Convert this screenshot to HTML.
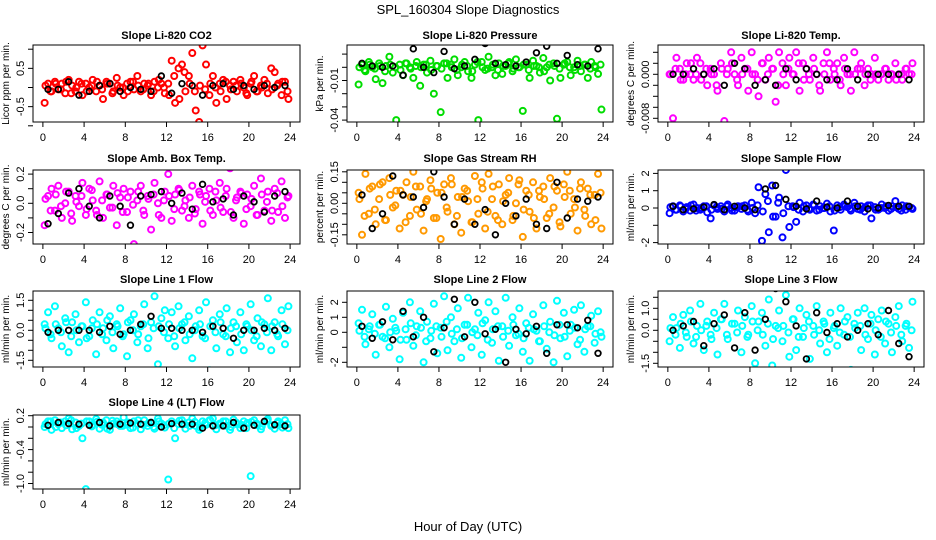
<!DOCTYPE html>
<html><head><meta charset="utf-8"><style>
body{margin:0;background:#fff;}
svg{display:block;font-family:"Liberation Sans",sans-serif;}
</style></head><body>
<svg id="chart" width="936" height="540" viewBox="0 0 936 540">
<text x="468" y="14" text-anchor="middle" font-size="13">SPL_160304  Slope Diagnostics</text>
<text x="468" y="531" text-anchor="middle" font-size="13">Hour of Day (UTC)</text>
</svg>
<script>
const co2Color=[-0.4,0.1,-0.1,0.15,-0.05,0.1,-0.15,0.2,0.05,-0.1,0.15,-0.2,0.1,0,0.2,-0.1,0.05,-0.3,0.15,0.1,-0.1,0.25,0,-0.2,0.1,0.15,-0.05,0.3,-0.1,0.1,0.05,-0.2,0.15,0,0.1,-0.15,0.1,0.7,-0.4,0.5,0.6,-0.1,0.3,0.9,-0.6,-0.9,1.1,0.6,-0.2,0.3,-0.4,0.1,0.2,-0.3,0.05,0.15,-0.1,0.2,0,-0.2,0.1,0.3,-0.1,0.05,0.2,-0.15,0.5,0.4,0.1,-0.2,0.15,-0.3];
const co2Core=[0.05,-0.1,0.1,-0.05,0.15,-0.15,0,0.1,-0.1,0.05,0.15,-0.05,0.1,-0.15,0.05,0,-0.1,0.15,0.05,-0.05,0.1,-0.1,0.2,0,-0.2,0.3,-0.3,0.4,0.1,-0.1,0.05,-0.05,0.1,0,-0.1,0.15,-0.05,0.05,0.1,-0.15,0.15,-0.1,0,0.1,-0.05,0.05,0.15,-0.1];
const co2Black=[-0.05,-0.05,0.15,-0.2,-0.1,0.05,0.1,-0.1,0.0,-0.05,-0.1,0.3,-0.15,0.1,0.05,-0.2,0.05,0.1,-0.05,0.05,-0.05,0.05,0.0,0.05];
const presColor=[-0.013,0.002,-0.003,0.004,0,-0.009,0.003,-0.012,0.001,0.008,-0.004,-0.04,0.002,-0.006,0.003,0,-0.008,0.004,-0.014,0.002,-0.004,0.005,-0.02,0.001,-0.034,0.003,-0.008,0.002,0.006,-0.006,0,0.004,-0.003,-0.008,0.002,-0.04,0.004,-0.002,0.008,0,-0.006,0.003,-0.005,0.001,0.004,-0.003,0.006,0,-0.033,0.002,-0.008,0.005,0.001,-0.004,0.007,0,-0.01,0.003,-0.039,-0.008,0.002,0.004,-0.006,0,0.005,-0.003,0.002,-0.008,0.004,0.001,-0.005,-0.032];
const presCore=[0,-0.002,0.002,-0.001,0.001,-0.003,0.002,0,-0.002,0.003,-0.001,0.001,0,0.002,-0.002,0.001,-0.001,0.003,0,-0.002,0.002,0.001,-0.003,0.004,0,-0.001,0.002,-0.002,0.001,0.003,-0.001,0,0.002,-0.002,0.001,0,-0.003,0.002,0.001,-0.001,0.003,0,-0.002,0.001,0.002,-0.001,0,0.002];
const presBlack=[0.003,0.001,0,0.001,-0.006,0.014,0,-0.004,0.012,-0.001,0.001,0.006,0.018,0.003,0.002,0.001,0.004,0.011,0.016,0.003,0.009,0.002,0.001,0.014];
const tempColor=[0,-0.008,0.003,0.001,-0.001,0.002,0,-0.001,0.003,0.002,0,-0.002,0.001,0,-0.003,0.002,-0.0085,0.001,0.004,0,-0.002,0.003,0.001,-0.003,0.004,0,-0.004,0.002,-0.001,0.003,0.001,-0.005,0.004,0.002,-0.002,0.003,0,0.004,-0.003,0.002,0.001,-0.001,0.003,0,-0.003,0.002,0.004,-0.001,0.001,0.002,-0.002,0.003,0,-0.003,0.004,0.001,0.002,-0.002,0.001,0,0.003,-0.001,0,0.001,-0.001,0,0.002,0,-0.001,0.001,0,0.002];
const tempCore=[0,0.001,-0.001,0,0.002,0,-0.001,0.001,0,-0.002,0.001,0,0.002,-0.001,0,0.001,0,-0.001,0.002,0,0.001,-0.002,0,0.001,0,0.002,-0.001,0,0.001,-0.002,0,0.002,0,-0.001,0.001,0,0,0.001,0,-0.001,0,0,0.001,0,-0.001,0,0.001,0];
const tempBlack=[0,0,0.001,0,0.001,-0.002,0.002,0.001,-0.002,-0.001,-0.002,0.001,-0.001,0.001,0,-0.001,-0.001,0.001,-0.001,0,0,0,0,-0.001];
const boxColor=[-0.15,0.05,0.1,-0.05,0.12,-0.1,0,0.08,-0.12,0.05,-0.02,0.14,-0.08,0.1,0.02,-0.05,0.15,-0.1,0.06,-0.03,0.12,-0.15,0.04,0.1,-0.06,0.08,-0.28,0.02,0.12,-0.08,0.05,-0.18,0.14,0,-0.1,0.08,0.2,-0.12,0.06,0.1,-0.05,0.02,-0.1,0.12,-0.04,0.08,-0.14,0.05,0.1,-0.08,0.02,0.14,-0.06,0.1,0.24,-0.1,0.04,0.08,-0.14,0.06,-0.02,0.12,-0.08,0.17,-0.05,0.08,-0.12,0.1,-0.06,0.15,-0.1,0.05];
const boxCore=[0.03,-0.05,0.06,-0.02,0.08,-0.07,0.01,0.05,-0.04,0.09,-0.08,0.02,0.06,-0.03,0.07,-0.06,0.04,-0.01,0.08,-0.05,0.03,0.06,-0.08,0.02,0.05,-0.04,0.09,-0.02,0.04,-0.07,0.06,0.01,-0.05,0.08,-0.03,0.05,-0.06,0.02,0.07,-0.04,0.03,-0.08,0.06,0.01,-0.05,0.07,-0.02,0.04];
const boxBlack=[-0.14,-0.07,0.07,0.1,-0.02,-0.1,0.05,-0.02,-0.15,0.05,0.06,0.08,0.0,0.07,-0.04,0.13,0.01,0.03,-0.08,0.05,0.01,-0.06,0.05,0.08];
const rhColor=[0.05,-0.15,0.14,-0.05,0.08,-0.1,0.02,0.1,-0.08,0.12,-0.02,0.06,-0.12,0.04,0.1,-0.06,0.15,-0.03,0.08,-0.13,0.02,0.11,-0.07,0.05,-0.17,0.09,-0.04,0.12,-0.1,0.03,-0.14,0.07,0.01,-0.09,0.13,-0.05,0.1,-0.12,0.14,0.02,-0.06,0.09,-0.1,0.04,0.12,-0.08,0.0,0.11,-0.16,0.06,-0.04,0.1,-0.12,0.03,0.08,-0.07,0.12,-0.02,0.06,-0.11,0.09,0.15,-0.05,0.02,-0.13,0.1,-0.03,0.07,-0.1,0.04,0.14,-0.12];
const rhCore=[0.02,-0.06,0.07,-0.03,0.09,-0.08,0.04,-0.01,0.06,-0.09,0.03,0.08,-0.05,0.01,0.07,-0.07,0.05,-0.02,0.09,-0.06,0.03,0.06,-0.09,0.02,0.07,-0.04,0.08,-0.08,0.01,0.05,-0.06,0.09,-0.03,0.04,-0.07,0.06,0.02,-0.05,0.08,-0.09,0.03,0.06,-0.02,0.07,-0.06,0.04,-0.08,0.05];
const rhBlack=[0.04,-0.12,-0.05,0.13,0.04,0.03,-0.02,0.15,0.03,-0.1,0.02,-0.1,-0.03,-0.15,0.0,-0.06,0.02,-0.1,-0.12,0.1,-0.07,0.02,0.01,0.03];
const sampColor=[-0.3,0.1,-0.1,0.15,-0.2,0.05,-0.15,0.2,0,-0.1,0.1,-0.25,-0.6,0.15,-0.05,0.1,-0.2,0.2,0,-0.15,0.1,-0.05,0.15,-0.2,0.3,-0.3,1.2,-1.9,0.8,-1.4,1.3,-0.5,0.6,-1.7,2.2,-1.1,0.1,-0.8,0.3,-0.2,0.15,-0.1,0.2,-0.15,0.1,0,0.25,-0.2,-1.3,0.15,-0.1,0.2,0.05,-0.15,0.3,-0.05,0.1,-0.2,0.15,-0.6,0.05,-0.1,0.2,0,-0.15,0.1,0.4,-0.05,0.15,-0.1,0.05,-0.05];
const sampCore=[0.05,-0.1,0.1,-0.05,0.15,-0.15,0,0.1,-0.1,0.05,-0.05,0.1,-0.15,0.05,0.1,-0.1,0,0.15,-0.2,0.4,-0.5,0.3,-0.3,0.1,0.05,-0.1,0.1,-0.05,0.15,-0.1,0,0.1,-0.15,0.05,0.1,-0.05,0.1,-0.1,0.05,0.15,-0.1,0,0.1,-0.05,0.05,-0.15,0.1,0];
const sampBlack=[0.1,-0.1,-0.05,0.05,0.2,-0.1,0.1,0.0,-0.1,1.1,1.3,0.5,0.1,-0.05,0.4,0.05,0.0,0.4,0.1,-0.05,0.0,0.15,0.1,0.1];
const l1Color=[0.3,0.9,-0.4,1.2,0.1,-0.8,0.6,-1.1,0.4,0.8,-0.6,0.2,1.4,-0.3,0.5,-1.2,0.9,0.1,-0.5,0.7,-0.9,0.3,1.1,-0.2,-1.3,0.5,0.8,-0.6,0.2,1.3,-0.9,0.4,1.7,-1.7,0.6,1.0,-0.4,0.9,-0.8,1.2,0.3,-0.5,0.7,-1.4,0.2,1.0,-0.3,1.4,-2.0,0.5,-0.9,0.8,-0.2,1.1,-1.1,0.4,-0.6,0.9,-1.0,0.2,1.3,-0.5,0.6,-0.8,0.3,1.6,-1.0,0.4,-0.3,1.0,-0.7,1.2];
const l1Core=[0.1,-0.2,0.3,-0.1,0.4,-0.3,0,0.2,-0.4,0.1,0.3,-0.2,0.5,-0.1,0.2,-0.3,0.4,0,-0.2,0.3,-0.4,0.1,0.2,-0.1,0.3,-0.3,0.1,0.4,-0.2,0,0.3,-0.4,0.2,-0.1,0.4,-0.3,0.1,0.2,-0.2,0.3,0,-0.3,0.4,-0.1,0.2,-0.2,0.3,0];
const l1Black=[-0.1,0,0,0,0,-0.1,0.2,-0.2,0,0.3,0.7,0.1,0.1,0,0,-0.1,0.2,0.1,-0.4,0,0,0.1,0,0.1];
const l2Color=[0.6,1.5,-0.8,0.2,1.2,-1.5,0.5,-0.3,1.7,-1.0,0.9,0.1,-1.8,1.3,-0.5,2.0,-0.9,0.4,1.4,-2.0,0.7,-0.4,1.9,-1.4,0.3,2.4,-1.2,1.0,-0.6,1.6,-1.7,0.5,2.3,-1.0,0.2,1.3,-1.5,0.8,2.0,-0.7,1.4,-1.9,0.4,2.3,-0.9,1.0,-0.2,1.6,-1.3,0.6,-1.9,1.2,0.1,-0.6,1.8,-1.1,0.7,-2.0,2.1,-0.4,1.3,-1.6,0.5,1.5,-0.8,1.8,-1.3,0.4,1.1,-0.7,1.4,-0.3];
const l2Core=[0.1,-0.3,0.4,-0.1,0.5,-0.4,0,0.3,-0.5,0.2,0.6,-0.2,0.3,-0.6,0.1,0.4,-0.3,0.7,-0.1,0.2,-0.4,0.5,0,-0.2,0.6,-0.5,0.2,0.4,-0.3,0.1,0.5,-0.1,-0.4,0.3,0.2,-0.6,0.4,0,-0.2,0.5,-0.3,0.1,0.3,-0.5,0.2,0.4,-0.1,0];
const l2Black=[0.4,-0.4,0.7,-0.5,1.4,-0.3,1.0,-1.3,0.3,2.2,-0.3,2.0,-0.1,0.2,-2.0,0.2,-0.1,0.4,-1.4,0.5,0.5,0.3,0.8,-1.4];
const l3Color=[-0.5,0.6,0.1,-0.8,0.7,-0.3,0.9,-0.6,0.2,1.2,-0.9,0.4,-0.2,0.8,-1.1,0.5,1.2,-0.4,-1.9,0.3,0.9,-1.0,0.6,-0.2,1.1,-1.5,0.4,0.8,-0.7,1.4,-1.6,0.2,0.9,-0.5,1.6,-1.2,0.5,-0.9,1.0,-0.3,0.7,-1.3,0.2,1.1,-0.6,0.4,-1.0,0.8,0.1,-0.7,1.0,-0.2,0.6,-1.8,0.3,0.8,-0.9,1.0,-0.4,0.7,-1.1,0.5,0.9,-0.6,0.3,-1.0,0.6,1.1,-0.5,0.2,-0.8,1.3];
const l3Core=[0.1,-0.2,0.3,-0.1,0.4,-0.3,0,0.2,-0.4,0.1,0.5,-0.2,0.3,-0.1,0.2,-0.3,0.4,0,-0.2,0.3,-0.4,0.1,0.2,-0.1,0.5,-0.3,0.1,0.4,-0.2,0,0.3,-0.4,0.2,-0.1,0.4,-0.3,0.1,0.2,-0.2,0.3,0,-0.3,0.4,-0.1,0.2,-0.2,0.3,0];
const l3Black=[0,0.2,0.4,-0.7,0.3,0.7,-0.8,0.8,-0.9,0.5,1.9,1.3,0.2,-1.3,0.8,-0.1,0.3,-0.3,0,0.3,-0.2,0.9,-0.6,-1.2];
const l4Color=[0,0.1,-0.05,0.12,0.05,-0.02,0.1,0.15,-0.04,0.08,0.02,-0.2,-1.1,0.1,0.04,0.14,-0.03,0.08,0.12,-0.05,0.06,0.1,0.02,0.17,0.04,-0.02,0.1,0.05,-0.04,0.12,0.02,0.08,-0.03,0.15,0.06,-0.01,-0.93,0.1,-0.2,0.05,0.12,-0.03,0.08,0.15,0.02,-0.05,0.1,0.04,0.12,0.15,-0.04,0.06,0.1,0.02,-0.05,0.13,0.05,-0.02,0.1,0.07,-0.87,0.12,0.03,-0.04,0.09,0.14,0.02,-0.03,0.1,0.05,0.12,-0.02];
const l4Core=[0.05,0.1,0,0.08,0.03,0.12,-0.02,0.06,0.1,0.01,0.09,0.04,-0.03,0.11,0.05,0.02,0.08,-0.01,0.12,0.04,0.07,0,0.1,0.03,0.06,-0.02,0.11,0.05,0.02,0.09,-0.01,0.07,0.12,0.03,0.05,0.1,0,0.08,0.04,-0.02,0.09,0.06,0.01,0.11,0.03,0.07,-0.01,0.05];
const l4Black=[0.03,0.08,0.06,0.05,0.03,0.08,0.02,0.05,0.07,0.05,0.08,0.0,0.06,0.05,0.05,-0.02,0.02,0.02,0.08,-0.02,0.03,0.1,0.04,0.02];
const xTicks=[0,4,8,12,16,20,24];

const NS="http://www.w3.org/2000/svg";
const svg=document.getElementById('chart');
function mk(tag,attrs,parent){const e=document.createElementNS(NS,tag);for(const k in attrs)e.setAttribute(k,attrs[k]);(parent||svg).appendChild(e);return e;}
const cols=[[33,300],[347,613],[658,924]];
const rows=[[45,122],[170,244],[291,367],[415,489]];
const titleY=[39,162,283,406];
const panels=[
 {t:"Slope Li-820 CO2",lab:"Licor ppm per min.",c:0,r:0,y0:87.5,k:38.3,col:"#ff0000",d:co2Color,e:co2Core,b:co2Black,ticks:[-1,-0.5,0,0.5,1],labs:{"-0.5":"-0.5","0.5":"0.5"}},
 {t:"Slope Li-820 Pressure",lab:"kPa per min.",c:1,r:0,y0:67.3,k:1320,col:"#00dd00",d:presColor,e:presCore,b:presBlack,ticks:[0.01,0,-0.01,-0.02,-0.03,-0.04],labs:{"-0.01":"-0.01","-0.04":"-0.04"}},
 {t:"Slope Li-820 Temp.",lab:"degrees C per min.",c:2,r:0,y0:74.3,k:5500,col:"#ff00ff",d:tempColor,e:tempCore,b:tempBlack,ticks:[0.004,0.002,0,-0.002,-0.004,-0.006,-0.008],labs:{"0":"0.000","-0.008":"-0.008"}},
 {t:"Slope Amb. Box Temp.",lab:"degrees C per min.",c:0,r:1,y0:203.3,k:146,col:"#ff00ff",d:boxColor,e:boxCore,b:boxBlack,ticks:[0.2,0.1,0,-0.1,-0.2],labs:{"0.2":"0.2","0":"0.0","-0.2":"-0.2"}},
 {t:"Slope Gas Stream RH",lab:"percent per min.",c:1,r:1,y0:203.3,k:210,col:"#ff9900",d:rhColor,e:rhCore,b:rhBlack,ticks:[0.15,0.1,0.05,0,-0.05,-0.1,-0.15],labs:{"0.15":"0.15","0":"0.00","-0.15":"-0.15"}},
 {t:"Slope Sample Flow",lab:"ml/min per min.",c:2,r:1,y0:208,k:17.3,col:"#0000ff",d:sampColor,e:sampCore,b:sampBlack,ticks:[2,1,0,-1,-2],labs:{"2":"2","1":"1","0":"0","-2":"-2"}},
 {t:"Slope Line 1 Flow",lab:"ml/min per min.",c:0,r:2,y0:330.3,k:20,col:"#00ffff",d:l1Color,e:l1Core,b:l1Black,ticks:[1.5,1,0.5,0,-0.5,-1,-1.5],labs:{"1.5":"1.5","0":"0.0","-1.5":"-1.5"}},
 {t:"Slope Line 2 Flow",lab:"ml/min per min.",c:1,r:2,y0:332.3,k:15,col:"#00ffff",d:l2Color,e:l2Core,b:l2Black,ticks:[2,1,0,-1,-2],labs:{"2":"2","1":"1","0":"0","-2":"-2"}},
 {t:"Slope Line 3 Flow",lab:"ml/min per min.",c:2,r:2,y0:330.3,k:22,col:"#00ffff",d:l3Color,e:l3Core,b:l3Black,ticks:[1.5,1,0.5,0,-0.5,-1,-1.5],labs:{"1":"1.0","0":"0.0","-1.5":"-1.5"}},
 {t:"Slope Line 4 (LT) Flow",lab:"ml/min per min.",c:0,r:3,y0:427,k:56.5,col:"#00ffff",d:l4Color,e:l4Core,b:l4Black,ticks:[0.2,0,-0.2,-0.4,-0.6,-0.8,-1],labs:{"0.2":"0.2","-0.4":"-0.4","-1":"-1.0"}}
];
panels.forEach((p,pi)=>{
 const [L,R]=cols[p.c],[T,B]=rows[p.r];
 const xs=h=>L+(R-L)*(h+0.96)/25.92;
 const ys=v=>p.y0-v*p.k;
 const g=mk('g',{});
 
 
 const tt=mk('text',{x:(L+R)/2,y:titleY[p.r],'text-anchor':'middle','font-size':11,'font-weight':'bold'},g);tt.textContent=p.t;
 
 
 const clip='clip'+pi;
 const cp=mk('clipPath',{id:clip},g);mk('rect',{x:L,y:T,width:R-L,height:B-T},cp);
 const pts=mk('g',{'clip-path':'url(#'+clip+')'},g);
 p.e.forEach((v,i)=>{
  const c=mk('circle',{cx:xs(i/2+0.25),cy:ys(v),r:3,fill:'none',stroke:p.col,'stroke-width':2},pts);
  
  
 });
 p.d.forEach((v,i)=>{
  const c=mk('circle',{cx:xs(i/3+0.17),cy:ys(v),r:3,fill:'none',stroke:p.col,'stroke-width':2},pts);
  
  
 });
 p.b.forEach((v,i)=>{
  const c=mk('circle',{cx:xs(i+0.5),cy:ys(v),r:2.8,fill:'none',stroke:'#000','stroke-width':1.8},pts);
  
  
 });
 const fr=mk('rect',{x:L,y:T,width:R-L,height:B-T,fill:'none',stroke:'#000','stroke-width':1},g);
 
 
 xTicks.forEach(h=>{
  const x=xs(h);mk('line',{x1:x,x2:x,y1:B,y2:B+5,stroke:'#000'},g);
  const t=mk('text',{x:x,y:B+19,'text-anchor':'middle','font-size':11},g);t.textContent=h;
  
  
 });
 p.ticks.forEach(v=>{
  const y=ys(v);mk('line',{x1:L-5,x2:L,y1:y,y2:y,stroke:'#000'},g);
  const s=p.labs[String(v)];
  if(s!==undefined){const t=mk('text',{x:L-9,y:y,'text-anchor':'middle','font-size':11,transform:`rotate(-90 ${L-9} ${y})`},g);t.textContent=s;
  
  }
 });
 const yl=mk('text',{x:L-24,y:(T+B)/2,'text-anchor':'middle','font-size':10,transform:`rotate(-90 ${L-24} ${(T+B)/2})`},g);yl.textContent=p.lab;
 
 
});
</script>
</body></html>
